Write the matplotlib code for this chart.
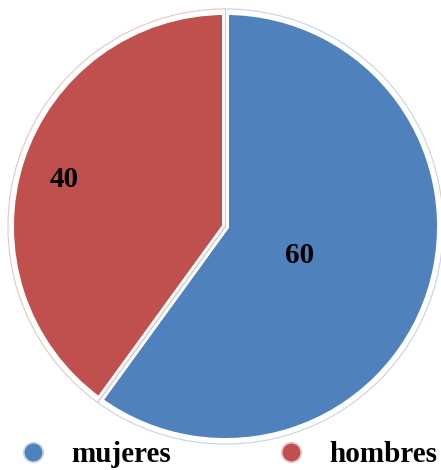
import matplotlib.pyplot as plt
import numpy as np
from matplotlib.lines import Line2D

# Data
categories = ['mujeres', 'hombres']
values = [60, 40]
colors = ['#4F81BD', '#C0504D']
outline_colors = ['#c3d4ea', '#eac4c3']
label_dist = [0.36, 0.79]   # where each number sits, as fraction of radius

plt.rcParams['font.family'] = ['Liberation Serif', 'DejaVu Serif']

fig = plt.figure(figsize=(4.41, 4.70), dpi=100)
ax = fig.add_axes([10.5/441, 28.5/470, 430/441, 430/470])

wedges, _ = ax.pie(values, colors=colors, startangle=90, counterclock=False,
                   radius=1.0,
                   wedgeprops=dict(edgecolor='white', linewidth=5))

# faint outline round each slice
outl, _ = ax.pie(values, colors=colors, startangle=90, counterclock=False,
                 radius=1.012,
                 wedgeprops=dict(fill=False, linewidth=0.8))
for w, c in zip(outl, outline_colors):
    w.set_edgecolor(c)
    w.set_clip_on(False)
for w in wedges:
    w.set_clip_on(False)

# value labels
for w, v, d in zip(wedges, values, label_dist):
    mid = np.deg2rad((w.theta1 + w.theta2) / 2)
    ax.text(d*np.cos(mid), d*np.sin(mid) - 0.012, str(v), ha='center',
            va='center_baseline', fontsize=21, fontweight='bold', color='black')

ax.set_xlim(-1, 1)
ax.set_ylim(-1, 1)
ax.set_aspect('auto')
ax.axis('off')

# legend with round markers
handles = [Line2D([], [], marker='o', linestyle='none', markersize=14,
                  markerfacecolor=c, markeredgecolor=oc, markeredgewidth=1.2)
           for c, oc in zip(colors, outline_colors)]
fig.legend(handles, categories, loc='center left',
           bbox_to_anchor=(21.5/441, 15/470), ncol=2, frameon=False,
           borderpad=0, borderaxespad=0, handlelength=0.8,
           handletextpad=0.9, columnspacing=3.72,
           prop=dict(size=21, weight='bold'))

fig.savefig('out.png', dpi=100)
